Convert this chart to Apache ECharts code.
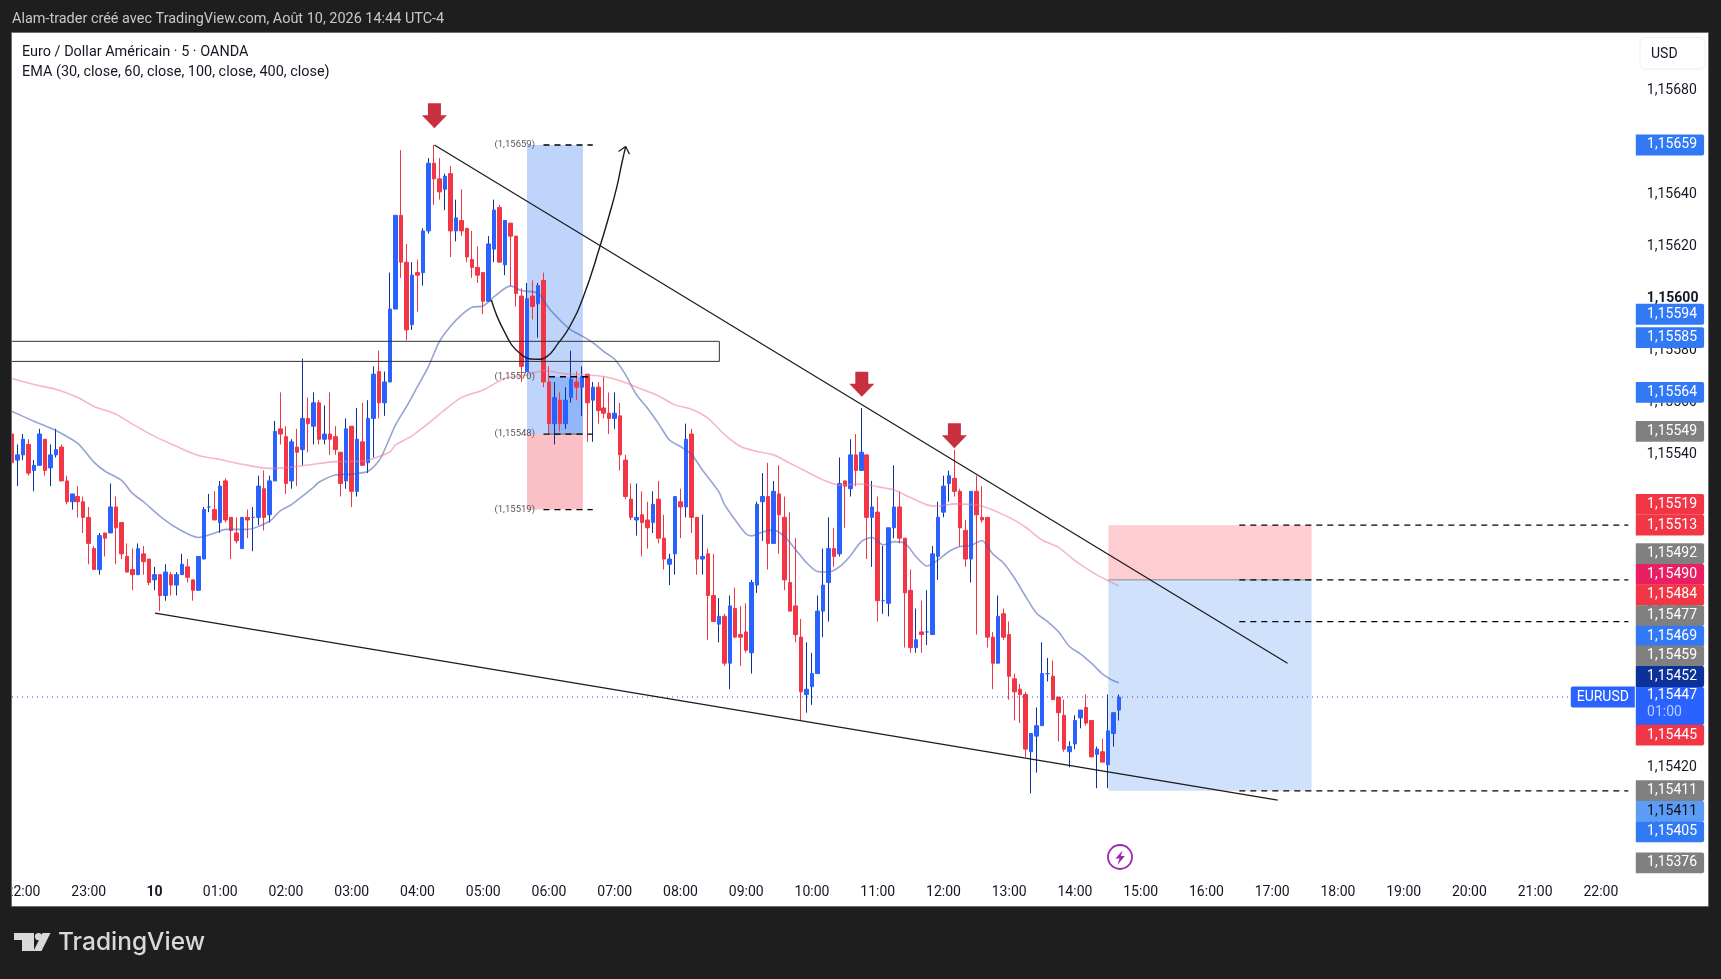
<!DOCTYPE html>
<html><head><meta charset="utf-8"><title>EURUSD</title>
<style>html,body{margin:0;padding:0;background:#1e1e1e}#c{width:1721px;height:979px}</style>
<script src="https://cdn.jsdelivr.net/npm/echarts@6/dist/echarts.min.js"></script>
</head><body><div id="c"></div>
<script>
const opens=[1.15548,1.15538,1.1554,1.15544,1.15534,1.15536,1.15546,1.15535,1.1554,1.15543,1.1553,1.15522,1.15524,1.15522,1.15516,1.15504,1.15496,1.1551,1.1551,1.1552,1.15514,1.15501,1.15496,1.15494,1.15502,1.155,1.15492,1.15494,1.15486,1.15494,1.1549,1.15494,1.15497,1.15492,1.15488,1.155,1.1552,1.15519,1.15514,1.1553,1.15516,1.1551,1.15504,1.15516,1.15516,1.15516,1.15527,1.15517,1.1553,1.1555,1.15547,1.1553,1.15543,1.15542,1.15554,1.15551,1.1556,1.15546,1.15548,1.15547,1.15541,1.1553,1.15551,1.15526,1.15545,1.15537,1.15554,1.15572,1.1556,1.15568,1.15596,1.15632,1.15614,1.1559,1.1561,1.1561,1.15626,1.15652,1.15646,1.15642,1.15648,1.15626,1.1563,1.15627,1.15615,1.15612,1.1561,1.15599,1.15619,1.15635,1.15613,1.15629,1.15624,1.15601,1.15572,1.15601,1.15598,1.15607,1.15568,1.15552,1.15561,1.15552,1.15562,1.15568,1.15566,1.15571,1.15561,1.15566,1.15558,1.15556,1.15554,1.15555,1.15538,1.15523,1.15515,1.15517,1.15515,1.15514,1.15523,1.15508,1.15498,1.15502,1.15522,1.1552,1.15548,1.15516,1.155,1.15502,1.15486,1.15475,1.15478,1.1546,1.15481,1.15471,1.15472,1.15464,1.1549,1.15522,1.15524,1.15506,1.15525,1.15516,1.15491,1.15482,1.1547,1.15448,1.15451,1.15456,1.1548,1.15491,1.15504,1.15502,1.1553,1.15527,1.1554,1.15534,1.1554,1.15516,1.15518,1.15484,1.15483,1.15512,1.1552,1.15508,1.15488,1.15466,1.15472,1.15472,1.15471,1.15501,1.15518,1.15529,1.15531,1.15526,1.15511,1.155,1.15526,1.15516,1.15516,1.1547,1.1546,1.15479,1.15471,1.15454,1.1545,1.15448,1.15426,1.15432,1.15436,1.15456,1.15455,1.15447,1.1544,1.15426,1.15429,1.15439,1.15443,1.15438,1.15425,1.15426,1.15421,1.15433,1.15442];
const closes=[1.15537,1.1554,1.15546,1.15533,1.15536,1.15548,1.15534,1.1554,1.15542,1.1553,1.15522,1.15525,1.15522,1.15516,1.15506,1.15496,1.15509,1.15508,1.1552,1.15512,1.15502,1.15495,1.15494,1.15504,1.15499,1.15491,1.15494,1.15486,1.15495,1.1549,1.15494,1.15498,1.15493,1.15488,1.15501,1.15519,1.1552,1.15515,1.15528,1.15515,1.15511,1.15507,1.15516,1.15515,1.15516,1.15528,1.15516,1.1553,1.15549,1.15548,1.15529,1.15545,1.15541,1.15554,1.15552,1.1556,1.15546,1.15548,1.15546,1.15542,1.15529,1.1555,1.15526,1.15546,1.15536,1.15554,1.15571,1.1556,1.15568,1.15596,1.15632,1.15614,1.15588,1.15609,1.15609,1.15626,1.15652,1.15646,1.15641,1.15647,1.15626,1.15631,1.15626,1.15616,1.15612,1.15609,1.15599,1.15621,1.15634,1.15614,1.1563,1.15624,1.15602,1.15574,1.156,1.15597,1.15605,1.15568,1.15552,1.15562,1.15552,1.15561,1.15569,1.15566,1.1557,1.1556,1.15566,1.15557,1.15556,1.15554,1.15556,1.1554,1.15524,1.15516,1.15516,1.15514,1.15512,1.15521,1.15508,1.155,1.155,1.15524,1.1552,1.15546,1.15516,1.155,1.15501,1.15486,1.15476,1.15478,1.1546,1.15482,1.1547,1.1547,1.15465,1.15491,1.15521,1.15524,1.15506,1.15526,1.15517,1.15492,1.1548,1.15471,1.15449,1.1545,1.15456,1.1548,1.1549,1.15504,1.15501,1.15529,1.15528,1.1554,1.15534,1.15541,1.15516,1.1552,1.15484,1.15484,1.15512,1.1552,1.15508,1.15487,1.15466,1.15469,1.15471,1.15472,1.15502,1.15516,1.15528,1.15532,1.15526,1.15512,1.155,1.15526,1.15517,1.15515,1.1547,1.1546,1.15478,1.1547,1.15455,1.15449,1.15448,1.15427,1.15433,1.15436,1.15456,1.15456,1.15446,1.15441,1.15427,1.15428,1.15438,1.15442,1.15437,1.15424,1.15427,1.15422,1.15434,1.15441,1.15447];
const lows=[1.15532,1.15528,1.15538,1.15532,1.15526,1.15536,1.15532,1.15528,1.15539,1.1553,1.15521,1.15519,1.15516,1.1551,1.15498,1.15496,1.15494,1.15501,1.1551,1.15498,1.155,1.15495,1.15488,1.15494,1.15494,1.1549,1.15488,1.1548,1.15484,1.15486,1.15486,1.15494,1.15491,1.15484,1.15488,1.155,1.15518,1.15515,1.1551,1.15514,1.155,1.15506,1.15504,1.15508,1.15503,1.15513,1.15511,1.15514,1.1553,1.15544,1.15525,1.15527,1.15528,1.15536,1.15541,1.15544,1.15544,1.15544,1.1554,1.1554,1.15524,1.15527,1.1552,1.15524,1.15536,1.15533,1.15539,1.15554,1.15555,1.15568,1.15596,1.15608,1.15584,1.15588,1.15595,1.15605,1.15625,1.15636,1.15638,1.15634,1.15616,1.15622,1.15624,1.15614,1.15608,1.15606,1.15594,1.15599,1.15614,1.15614,1.15609,1.15605,1.15597,1.15568,1.15572,1.15592,1.15585,1.15566,1.15548,1.15544,1.15549,1.1555,1.1556,1.15561,1.15555,1.15545,1.15545,1.15552,1.15554,1.15548,1.1555,1.15534,1.15523,1.15515,1.15509,1.15501,1.15504,1.1551,1.15506,1.15496,1.1549,1.15494,1.15508,1.15516,1.1551,1.15494,1.15494,1.15469,1.15476,1.15468,1.15459,1.1545,1.1547,1.15459,1.15464,1.15456,1.15487,1.15507,1.15496,1.15506,1.15502,1.15488,1.1548,1.15468,1.15438,1.15441,1.15444,1.15456,1.1547,1.15476,1.15497,1.15501,1.15512,1.15524,1.15528,1.15534,1.155,1.15497,1.15476,1.15479,1.15478,1.15508,1.15506,1.15466,1.15464,1.15464,1.15464,1.15467,1.15471,1.15492,1.15516,1.15522,1.15524,1.15505,1.15497,1.15491,1.15471,1.15514,1.15466,1.1545,1.1546,1.15469,1.15446,1.15438,1.15437,1.15424,1.1541,1.15418,1.15436,1.15453,1.15446,1.1543,1.15426,1.1542,1.15427,1.15435,1.15436,1.15424,1.15412,1.15422,1.15412,1.15428,1.15438];
const highs=[1.15548,1.15544,1.15548,1.15546,1.15538,1.1555,1.15546,1.15544,1.1555,1.15544,1.15532,1.15525,1.15528,1.15524,1.1552,1.15505,1.1551,1.1551,1.15529,1.15524,1.15514,1.15506,1.15504,1.15506,1.15505,1.155,1.15497,1.15494,1.15498,1.15495,1.15495,1.15502,1.155,1.15492,1.15501,1.1552,1.15525,1.15526,1.1553,1.15531,1.15516,1.15516,1.15516,1.15519,1.1552,1.15532,1.15534,1.15532,1.15553,1.15564,1.15551,1.15546,1.1555,1.15577,1.15562,1.15564,1.15561,1.15559,1.15564,1.15551,1.15541,1.15554,1.15551,1.15558,1.1556,1.15561,1.15574,1.1558,1.15572,1.1561,1.15632,1.15657,1.15621,1.15614,1.15615,1.15627,1.15654,1.15659,1.15654,1.15648,1.15651,1.15638,1.15642,1.15627,1.15626,1.1562,1.1561,1.15624,1.15638,1.15636,1.1563,1.15629,1.15624,1.15604,1.15606,1.15607,1.15606,1.1561,1.15574,1.15568,1.15564,1.15566,1.1558,1.15572,1.15574,1.15571,1.15568,1.15568,1.1557,1.15564,1.15564,1.1556,1.1554,1.15529,1.15529,1.15526,1.15522,1.15526,1.1553,1.15517,1.15502,1.15524,1.15527,1.15552,1.1555,1.15516,1.15517,1.15504,1.15502,1.15485,1.15479,1.15486,1.15489,1.15482,1.15483,1.15492,1.15522,1.15533,1.15537,1.1553,1.15536,1.15524,1.15518,1.15508,1.15477,1.15468,1.15464,1.15486,1.15504,1.15516,1.15512,1.15539,1.1553,1.15546,1.15548,1.15558,1.1554,1.1553,1.15524,1.15505,1.15512,1.15536,1.15526,1.15508,1.15496,1.15481,1.15484,1.15488,1.15505,1.15522,1.15532,1.15534,1.15542,1.15527,1.15515,1.15526,1.15532,1.15528,1.15516,1.15472,1.15486,1.15481,1.15476,1.15456,1.15452,1.15449,1.15433,1.15443,1.15468,1.15462,1.15461,1.15447,1.15446,1.1543,1.1544,1.15442,1.15448,1.15438,1.15428,1.15431,1.15448,1.15441,1.15448];

const emaFastIdx=[0,4,6,8,12,15,17,20,22,24,27,30,34,37,39,43,47,49,51,55,56,59,62,65,67,68,70,72,74,76,78,80,82,84,86,88,91,93,96,98,100,102,104,106,108,110,112,114,116,118,120,122,124,126,129,130,132,134,135,137,139,141,143,145,147,149,151,153,155,157,159,161,163,165,167,169,171,173,175,177,179,181,183,185,187,189,191,193,195,197,199,201,202];
const emaFastVal=[1.155567,1.155529,1.155512,1.155494,1.155444,1.155371,1.155337,1.155302,1.155252,1.15522,1.155165,1.15512,1.155083,1.1551,1.155114,1.155114,1.155145,1.155186,1.155209,1.155275,1.155295,1.155323,1.155326,1.155337,1.155378,1.155419,1.155515,1.155585,1.155662,1.155739,1.155835,1.155893,1.155937,1.155967,1.155972,1.156008,1.156049,1.156031,1.156021,1.155963,1.155918,1.15588,1.155857,1.155831,1.155797,1.155767,1.155707,1.15563,1.155579,1.15552,1.155457,1.155432,1.155403,1.155342,1.155259,1.155211,1.15515,1.155096,1.155089,1.155104,1.155112,1.155086,1.155037,1.154986,1.154952,1.15495,1.15497,1.155012,1.155067,1.155083,1.155054,1.155067,1.15506,1.155009,1.154973,1.154996,1.155029,1.155048,1.155052,1.155071,1.15502,1.154984,1.154926,1.154856,1.154792,1.15476,1.154721,1.154664,1.154636,1.1546,1.154559,1.154533,1.154525];
const emaSlowIdx=[0,4,8,12,15,19,22,26,30,34,38,42,47,51,55,59,63,65,67,69,70,73,76,79,82,86,90,94,97,101,105,108,111,114,118,121,124,127,130,133,136,139,142,145,148,151,155,158,161,164,167,169,172,177,182,185,188,191,194,198,200,202];
const emaSlowVal=[1.155693,1.15567,1.155652,1.15562,1.155586,1.155556,1.155518,1.155471,1.155433,1.155398,1.155382,1.155364,1.155348,1.155353,1.155364,1.155374,1.155375,1.15538,1.155394,1.155412,1.155438,1.155473,1.155521,1.155573,1.15562,1.155649,1.155694,1.155707,1.155724,1.155711,1.155707,1.155701,1.155685,1.15566,1.155626,1.155592,1.155575,1.155541,1.155479,1.155432,1.155413,1.1554,1.155368,1.155336,1.155304,1.155284,1.155288,1.155278,1.155265,1.155236,1.155208,1.155203,1.155212,1.155204,1.15516,1.155122,1.155073,1.155045,1.154994,1.154939,1.154917,1.154897];

const arcIdx=[87.5,89.7,92.7,95.8,97.6,99.7,101.8,104.3,107.3,109.1,110.4,111.3,112];
const arcVal=[1.155995,1.15588,1.15579,1.155767,1.155777,1.155829,1.155893,1.156008,1.1562,1.156328,1.15643,1.15652,1.156584];
const arrowHeadIdx=[110.7,112,112.7];
const arrowHeadVal=[1.156565,1.156584,1.156555];
const trendUpper=[[77.1,1.15659],[232.8,1.1546]];
const trendLower=[[26.1,1.154792],[231,1.154074]];
const downArrows=[[77.1,1.156654],[155.1,1.155623],[172,1.155425]];
const lastPrice=1.15447;

const hourIdx=[2,14,26,38,50,62,74,86,98,110,122,134,146,158,170,182,194,206,218,230,242,254,266,278,290];
const hourLabels=['22:00','23:00','10','01:00','02:00','03:00','04:00','05:00','06:00','07:00','08:00','09:00','10:00','11:00','12:00','13:00','14:00','15:00','16:00','17:00','18:00','19:00','20:00','21:00','22:00'];
const priceTicks=[1.1568,1.1566,1.1564,1.1562,1.156,1.1558,1.1556,1.1554,1.1552,1.155,1.1548,1.1546,1.1544,1.1542,1.154];

const zones=[
 {x0:94,x1:104.2,top:1.15659,bottom:1.15548,fill:'#bed4fb'},
 {x0:94,x1:104.2,top:1.15548,bottom:1.15519,fill:'#fbc0c6'},
 {x0:98,x1:104.2,top:1.1557,bottom:1.15548,fill:'#92b6f8'},
 {x0:200.1,x1:237.2,top:1.15513,bottom:1.15492,fill:'#fdcdd2'},
 {x0:200.1,x1:237.2,top:1.15492,bottom:1.15411,fill:'#cfe1fb'}
];
const levelLines=[
 {x0:97,x1:106,p:1.15659},{x0:98,x1:106,p:1.1557},{x0:97,x1:106,p:1.15548},{x0:97,x1:106,p:1.15519},
 {x0:224,x1:295,p:1.15513},{x0:224,x1:295,p:1.15492},{x0:224,x1:295,p:1.15476},{x0:224,x1:295,p:1.15411}
];
const toolLabels=[['(1,15659)',1.15659],['(1,15570)',1.1557],['(1,15548)',1.15548],['(1,15519)',1.15519]];
const badgeTexts=['1,15659','1,15594','1,15585','1,15564','1,15549','1,15519','1,15513','1,15492','1,15490','1,15484','1,15477','1,15469','1,15459','1,15452','1,15447','1,15445','1,15411','1,15411','1,15405','1,15376'];
const badgeAt=[1.15659,1.15594,1.15585,1.15564,1.15549,1.15521,1.15513,1.155021,1.154941,1.154862,1.154783,1.154704,1.154628,1.154549,1.154436,1.154324,1.154111,1.154031,1.153952,1.153833];
const badgeFill=['#3179f5','#3179f5','#3179f5','#3179f5','#808080','#f23645','#f23645','#808080','#e91e63','#f23645','#808080','#3179f5','#808080','#0c3299','#2962ff','#f23645','#808080','#5b9cf6','#3179f5','#808080'];

const c=echarts.init(document.getElementById('c'),null,{renderer:'canvas'});
const FONT='Roboto';
const line=(name,data,color,w,extra)=>Object.assign({type:'line',name,data,showSymbol:false,symbol:'none',silent:true,animation:false,
  lineStyle:{color,width:w},z:6},extra||{});
const ohlc=opens.map((o,i)=>[i,o,closes[i],lows[i],highs[i]]);
const bodies=opens.map((o,i)=>[i,o,closes[i],Math.min(o,closes[i]),Math.max(o,closes[i])]);
const series=[
 {type:'custom',name:'zones',z:1,silent:true,data:zones.map((z,i)=>[i]),encode:{x:0},renderItem(p,api){
   const z=zones[p.dataIndex];const a=api.coord([z.x0,z.top]),b=api.coord([z.x1,z.bottom]);
   return {type:'rect',shape:{x:a[0],y:a[1],width:b[0]-a[0],height:b[1]-a[1]},style:{fill:z.fill}};}},
 {type:'candlestick',name:'wicks',z:3,barWidth:1,silent:true,encode:{x:0,y:[1,2,3,4]},data:ohlc,
   itemStyle:{color:'#0c3299',color0:'#f23645',borderColor:'#0c3299',borderColor0:'#f23645',borderColorDoji:'#0c3299',borderWidth:1}},
 {type:'candlestick',name:'EURUSD',z:4,barWidth:4,silent:true,encode:{x:0,y:[1,2,3,4]},data:bodies,
   itemStyle:{color:'#2962ff',color0:'#f23645',borderColor:'#2962ff',borderColor0:'#f23645',borderColorDoji:'#2962ff',borderWidth:1}},
 line('EMA 30',emaFastIdx.map((k,i)=>[k,emaFastVal[i]]),'rgba(60,90,175,0.55)',1.6,{smooth:0.25,z:5}),
 line('EMA 100',emaSlowIdx.map((k,i)=>[k,emaSlowVal[i]]),'rgba(240,120,160,0.55)',1.6,{smooth:0.25,z:5}),
 line('trend upper',trendUpper,'#1a1a1a',1.2),
 line('trend lower',trendLower,'#1a1a1a',1.2),
 line('arc',arcIdx.map((k,i)=>[k,arcVal[i]]),'#1a1a1a',1.4,{smooth:0.5}),
 line('arc head',arrowHeadIdx.map((k,i)=>[k,arrowHeadVal[i]]),'#1a1a1a',1.2),
 line('last price',[[0,lastPrice],[284.5,lastPrice]],'#1f4fe0',1,{lineStyle:{color:'#1f4fe0',width:1.1,type:[1,4]},z:5}),
 ...levelLines.map((l,i)=>line('level '+i,[[l.x0,l.p],[l.x1,l.p]],'#000',1.3,{lineStyle:{color:'#000',width:1.3,type:[6,5]},z:6})),
 line('zone separator',[[200.1,1.15492],[237.2,1.15492]],'#888',1,{z:2}),
 line('zone separator left',[[98,1.15548],[104.2,1.15548]],'#666',1,{z:2}),
 {type:'custom',name:'zone box',z:6,silent:true,data:[[-3,129.1,1.155836,1.155759]],encode:{x:[0,1],y:[2,3]},renderItem(p,api){
   const a=api.coord([api.value(0),api.value(2)]),b=api.coord([api.value(1),api.value(3)]);
   return {type:'rect',shape:{x:a[0],y:a[1],width:b[0]-a[0],height:b[1]-a[1]},style:{fill:'rgba(0,0,0,0)',stroke:'#333',lineWidth:1}};}},
 {type:'scatter',name:'signals',z:7,silent:true,data:downArrows,symbol:'path://M6,0 H19 V12 H25 L12.5,25 L0,12 H6 Z',symbolSize:[25,25],symbolOffset:[0,'-50%'],itemStyle:{color:'#c9303f',opacity:1}},
 {type:'custom',name:'tool labels',z:8,silent:true,data:toolLabels.map(t=>[95.45,t[1]]),encode:{x:0,y:1},renderItem(p,api){
   const a=api.coord([api.value(0),api.value(1)]);
   return {type:'text',style:{x:a[0],y:a[1],text:toolLabels[p.dataIndex][0],fill:'#555',font:'9.5px '+FONT,align:'right',verticalAlign:'middle'}};}},
 {type:'custom',name:'price badges',z:20,silent:true,data:badgeAt.map((v,i)=>[296,v]),encode:{x:0,y:1},renderItem(p,api){
   const a=api.coord([api.value(0),api.value(1)]);const i=p.dataIndex;
   const x=p.coordSys.x+p.coordSys.width+2;const two=badgeTexts[i]==='1,15447';const h=two?38:20.8;
   const lb=badgeFill[i]==='#5b9cf6';
   const ch=[{type:'rect',shape:{x:x,y:a[1]-h/2,width:68.3,height:h,r:[0,2,2,0]},style:{fill:badgeFill[i]}},
     {type:'text',style:{x:x+11.3,y:two?a[1]-10:a[1],text:badgeTexts[i],fill:lb?'#111':'#fff',font:'14px '+FONT,align:'left',verticalAlign:'middle'}}];
   if(two)ch.push({type:'text',style:{x:x+11.3,y:a[1]+7,text:'01:00',fill:'#b9ccff',font:'14px '+FONT,align:'left',verticalAlign:'middle'}});
   return {type:'group',children:ch};}},
 {type:'custom',name:'symbol tag',z:20,silent:true,data:[[284.5,lastPrice]],encode:{x:0,y:1},renderItem(p,api){
   const a=api.coord([api.value(0),api.value(1)]);
   return {type:'group',children:[{type:'rect',shape:{x:a[0],y:a[1]-10.5,width:64,height:21,r:[2,0,0,2]},style:{fill:'#2962ff'}},
    {type:'text',style:{x:a[0]+32,y:a[1],text:'EURUSD',fill:'#fff',font:'14px '+FONT,align:'center',verticalAlign:'middle'}}]};}}
];
const dark='#1e1e1e';
const txt=(x,y,text,fill,font)=>({type:'text',z:102,silent:true,style:{x,y,text,fill,font,align:'left',verticalAlign:'middle'}});
c.setOption({
 animation:false,backgroundColor:'#ffffff',
 grid:{left:12,top:33,width:1621.8,height:873,containLabel:false,show:false},
 tooltip:{show:false},
 xAxis:{type:'value',min:0,max:296,splitLine:{show:false},axisLine:{show:false},axisTick:{show:false},
  axisLabel:{inside:true,margin:7,color:'#131722',fontFamily:FONT,fontSize:14,customValues:hourIdx,
   formatter:v=>{const i=hourIdx.indexOf(v);const t=hourLabels[i];return t==='10'?'{b|10}':t;},rich:{b:{fontWeight:'bold',fontFamily:FONT,fontSize:14,color:'#131722'}}}},
 yAxis:{type:'value',position:'right',min:1.1536676,max:1.1570201,scale:true,splitLine:{show:false},axisLine:{show:false},axisTick:{show:false},
  axisLabel:{margin:13,color:'#131722',fontFamily:FONT,fontSize:14,customValues:priceTicks,
   formatter:v=>{const s=v.toFixed(5).replace('.',',');return Math.abs(v-1.156)<1e-7?'{b|'+s+'}':s;},rich:{b:{fontWeight:'bold',fontFamily:FONT,fontSize:14,color:'#131722'}}}},
 series,
 graphic:{elements:[
  {type:'rect',z:100,silent:true,shape:{x:0,y:0,width:12,height:979},style:{fill:dark}},
  {type:'rect',z:100,silent:true,shape:{x:0,y:0,width:1721,height:33},style:{fill:dark}},
  {type:'rect',z:100,silent:true,shape:{x:1708,y:0,width:13,height:979},style:{fill:dark}},
  {type:'rect',z:100,silent:true,shape:{x:0,y:906,width:1721,height:73},style:{fill:dark}},
  {type:'rect',z:101,silent:true,shape:{x:11.5,y:32.5,width:1697,height:874},style:{fill:'rgba(0,0,0,0)',stroke:'#6e6e6e',lineWidth:1}},
  txt(12,19,'Alam-trader créé avec TradingView.com, Août 10, 2026 14:44 UTC-4','#c8c8c8','14.45px '+FONT),
  txt(22,52,'Euro / Dollar Américain · 5 · OANDA','#131722','14.45px '+FONT),
  txt(22,72.5,'EMA (30, close, 60, close, 100, close, 400, close)','#131722','14.45px '+FONT),
  {type:'rect',z:102,silent:true,shape:{x:1640,y:37.5,width:65,height:31.5,r:5},style:{fill:'#fff',stroke:'#eeeeee',lineWidth:1}},
  txt(1651,54,'USD','#131722','14px '+FONT),
  {type:'circle',z:102,silent:true,shape:{cx:1120,cy:857,r:12},style:{fill:'#fff',stroke:'#9c27b0',lineWidth:1.8}},
  {type:'polygon',z:102,silent:true,shape:{points:[[1122.5,850.5],[1115.5,858.5],[1119.5,858.5],[1117.5,865],[1124.8,856],[1120.8,856]]},style:{fill:'#9c27b0'}},
  {type:'polygon',z:102,silent:true,shape:{points:[[14,933],[34,933],[34,951],[22,951],[22,940],[14,940]]},style:{fill:'#d9d9d9'}},
  {type:'circle',z:102,silent:true,shape:{cx:38.5,cy:936.6,r:3.6},style:{fill:'#d9d9d9'}},
  {type:'polygon',z:102,silent:true,shape:{points:[[42.5,933],[50.5,933],[41.5,951],[33.5,951]]},style:{fill:'#d9d9d9'}},
  txt(58,943,'TradingView','#d9d9d9','500 24.5px Inter')
 ]}
});
</script></body></html>
